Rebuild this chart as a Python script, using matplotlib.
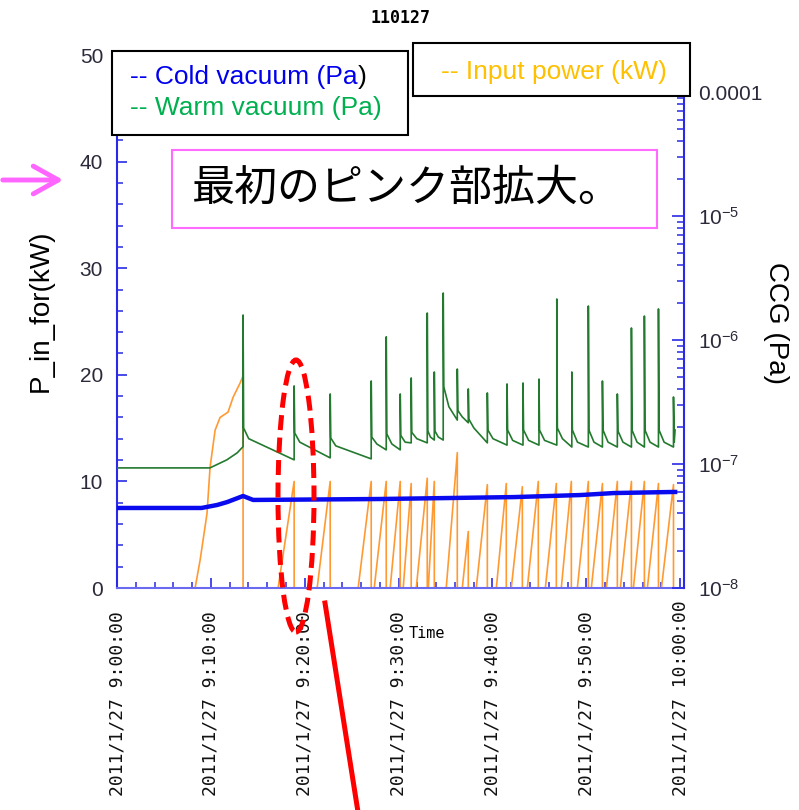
import matplotlib
matplotlib.use('Agg')
import matplotlib.pyplot as plt
import matplotlib.transforms as mtransforms
from matplotlib.patches import Rectangle, Ellipse, FancyArrowPatch
from matplotlib.lines import Line2D
from matplotlib.ticker import MultipleLocator, LogLocator, NullFormatter

plt.rcParams['font.family'] = ['Liberation Sans', 'Noto Sans CJK JP', 'DejaVu Sans']
plt.rcParams['mathtext.fontset'] = 'custom'
plt.rcParams['mathtext.rm'] = 'Liberation Sans'
plt.rcParams['mathtext.it'] = 'Liberation Sans:italic'

# ----------------------------------------
# Data (time = minutes after 2011/1/27 9:00)
# ----------------------------------------

# Input power (kW): first slow ramp
ramp1_t = [0, 8.32, 8.85, 9.59, 9.91, 10.45, 10.98, 11.83, 12.37, 13.10, 13.43]
ramp1_kw = [0, 0, 2.6, 7.0, 11.3, 14.8, 16.0, 16.5, 17.9, 19.2, 19.9]

# following pulses: ramp start, peak time, peak value
pulse_start = [17.16, 21.32, 25.69, 27.40, 29.10, 30.49, 31.88, 33.16, 35.07, 36.78, 38.27, 40.41,
               42.00, 43.71, 45.63, 47.33, 49.04, 50.53, 52.13, 53.62, 55.01, 56.50, 58.00]
pulse_peak_t = [18.87, 22.71, 27.08, 28.68, 30.17, 31.34, 33.05, 33.80, 36.25, 37.42, 39.45, 41.47,
                43.18, 44.88, 46.80, 48.40, 50.21, 51.71, 53.30, 54.80, 56.18, 57.68, 59.28]
pulse_peak_kw = [10.0, 10.0, 10.0, 10.0, 10.0, 9.8, 10.3, 10.0, 12.7, 5.3, 9.7, 9.8,
                 9.5, 10.0, 9.8, 10.0, 10.0, 9.8, 10.0, 10.0, 10.0, 9.8, 9.7]
t_end = 59.45

# Warm vacuum (Pa)
warm_pre_t = [0, 9.9, 11.7, 12.8]
warm_pre_pa = [9.3e-8, 9.3e-8, 1.08e-7, 1.23e-7]
spike_t = [13.43, 18.87, 22.71, 27.08, 28.68, 30.17, 31.34, 33.05, 33.80, 34.75, 36.25, 37.42, 39.45,
           41.55, 43.25, 44.95, 46.85, 48.45, 50.21, 51.71, 53.30, 54.80, 56.18, 57.68, 59.28]
spike_peak = [1.59e-6, 4.26e-7, 3.67e-7, 4.67e-7, 1.06e-6, 3.67e-7, 4.94e-7, 1.65e-6, 5.52e-7, 2.39e-6,
              5.83e-7, 4.03e-7, 3.74e-7, 4.42e-7, 4.50e-7, 4.84e-7, 2.14e-6, 5.52e-7, 1.88e-6, 4.67e-7,
              3.67e-7, 1.25e-6, 1.56e-6, 1.78e-6, 3.47e-7]
spike_floor = [1.38e-7, 1.08e-7, 1.12e-7, 1.10e-7, 1.30e-7, 1.30e-7, 1.48e-7, 1.48e-7, 1.56e-7, 1.56e-7,
               2.26e-7, 2.15e-7, 1.48e-7, 1.42e-7, 1.42e-7, 1.42e-7, 1.42e-7, 1.37e-7, 1.37e-7, 1.37e-7,
               1.37e-7, 1.37e-7, 1.37e-7, 1.37e-7, 1.37e-7]
spike_post = [1.95e-7, 1.78e-7, 1.62e-7, 1.65e-7, 1.75e-7, 1.70e-7, 1.80e-7, 1.85e-7, 1.85e-7, 4.2e-7,
              2.7e-7, 2.3e-7, 1.88e-7, 1.88e-7, 1.88e-7, 1.88e-7, 1.95e-7, 1.88e-7, 1.88e-7, 1.88e-7,
              1.85e-7, 1.88e-7, 1.88e-7, 1.88e-7, 1.88e-7]
spike_knee = [1.6e-7, 1.5e-7, 1.4e-7, 1.45e-7, 1.45e-7, 1.5e-7, 1.6e-7, 1.65e-7, 1.65e-7, 2.9e-7,
              2.4e-7, 1.95e-7, 1.6e-7, 1.55e-7, 1.55e-7, 1.55e-7, 1.6e-7, 1.5e-7, 1.5e-7, 1.5e-7,
              1.5e-7, 1.5e-7, 1.5e-7, 1.5e-7, 1.5e-7]

# Cold vacuum (Pa)
cold_t = [0, 9.0, 10.66, 11.73, 13.43, 14.5, 28.0, 42.3, 49.4, 52.9, 59.3, 59.45]
cold_pa = [4.42e-8, 4.42e-8, 4.67e-8, 4.93e-8, 5.52e-8, 5.13e-8, 5.22e-8, 5.41e-8, 5.62e-8,
           5.83e-8, 5.95e-8, 5.95e-8]

tick_min = [0, 10, 20, 30, 40, 50, 60]
tick_lab = ['2011/1/27 9:00:00', '2011/1/27 9:10:00', '2011/1/27 9:20:00', '2011/1/27 9:30:00',
            '2011/1/27 9:40:00', '2011/1/27 9:50:00', '2011/1/27 10:00:00']
ccg_ticks = [1e-8, 1e-7, 1e-6, 1e-5, 1e-4]
ccg_labels = ['10$^{-8}$', '10$^{-7}$', '10$^{-6}$', '10$^{-5}$', '0.0001']

# ----------------------------------------
# build the paths
# ----------------------------------------
pw_t = list(ramp1_t) + [ramp1_t[-1]]
pw_kw = list(ramp1_kw) + [0]
for s, p, v in zip(pulse_start, pulse_peak_t, pulse_peak_kw):
    pw_t += [s, p, p]
    pw_kw += [0, v, 0]
pw_t.append(t_end)
pw_kw.append(0)

wm_t = list(warm_pre_t)
wm_p = list(warm_pre_pa)
for i, ts in enumerate(spike_t):
    nxt = spike_t[i + 1] if i + 1 < len(spike_t) else t_end
    wm_t += [ts, ts, ts + 0.06, min(ts + 0.6, ts + 0.45 * (nxt - ts))]
    wm_p += [spike_floor[i], spike_peak[i], spike_post[i], spike_knee[i]]
wm_t.append(t_end)
wm_p.append(spike_post[-1])

# ----------------------------------------
# plot
# ----------------------------------------
W, H = 799, 810
fig = plt.figure(figsize=(W / 100, H / 100), dpi=100)
ax = fig.add_axes([117 / W, 1 - 588 / H, 567 / W, 533 / H])
ax2 = ax.twinx()

ax.plot(pw_t, pw_kw, color='#ff9a33', lw=1.2)
ax2.plot(wm_t, wm_p, color='#237a2f', lw=1.2)
ax2.plot(cold_t, cold_pa, color='#0a0aee', lw=3.2)

axcol = '#2a2ae6'
labcol = '#2a2a3a'
ax.set_xlim(0, 60.4)
ax.set_ylim(0, 50)
ax2.set_yscale('log')
ax2.set_ylim(1e-8, 10 ** (-8 + 533 / 124))

ax.yaxis.set_major_locator(MultipleLocator(10))
ax.yaxis.set_minor_locator(MultipleLocator(2))
ax.xaxis.set_major_locator(MultipleLocator(10))
ax.xaxis.set_minor_locator(MultipleLocator(2))
ax.tick_params(axis='y', which='major', direction='in', length=7, width=1.2, color=axcol,
               labelsize=15, labelcolor=labcol, pad=10)
ax.tick_params(axis='y', which='minor', direction='in', length=4, width=1.1, color=axcol)
ax.tick_params(axis='x', which='major', direction='in', length=7, width=1.2, color=axcol, labelbottom=False)
ax.tick_params(axis='x', which='minor', direction='in', length=4, width=1.1, color=axcol)

ax2.set_yticks(ccg_ticks)
ax2.set_yticklabels(ccg_labels)
ax2.yaxis.set_minor_locator(LogLocator(base=10, subs=range(2, 10)))
ax2.yaxis.set_minor_formatter(NullFormatter())
ax2.tick_params(axis='y', which='major', direction='in', length=9, width=1.2, color=axcol,
                labelsize=15, labelcolor=labcol, pad=10)
ax2.tick_params(axis='y', which='minor', direction='in', length=5, width=1.1, color=axcol)

for a in (ax, ax2):
    a.spines['top'].set_visible(False)
ax.spines['right'].set_visible(False)
ax.spines['left'].set_color(axcol)
ax.spines['left'].set_linewidth(1.5)
ax.spines['bottom'].set_color('#6a6af0')
ax.spines['bottom'].set_linewidth(1.5)
ax2.spines['left'].set_visible(False)
ax2.spines['bottom'].set_visible(False)
ax2.spines['right'].set_color(axcol)
ax2.spines['right'].set_linewidth(1.5)

# rotated time labels, bottom-anchored
trans = mtransforms.blended_transform_factory(ax.transData, fig.transFigure)
for m, lab in zip(tick_min, tick_lab):
    ax.text(m, 1 - 796 / H, lab, transform=trans, rotation=90, ha='center', va='bottom',
            family='DejaVu Sans Mono', fontsize=13, color='#111111', clip_on=False)

fig.text(409 / W, 1 - 634 / H, 'Time', family='DejaVu Sans Mono', fontsize=11, va='center')
fig.text(400 / W, 1 - 18 / H, '110127', family='DejaVu Sans Mono', fontsize=12, fontweight='bold',
         ha='center', va='center')
fig.text(41 / W, 1 - 311 / H, 'P_in_for(kW)', rotation=90, fontsize=20, ha='center', va='center')
fig.text(776 / W, 1 - 323 / H, 'CCG (Pa)', rotation=-90, fontsize=20, ha='center', va='center')

# legend boxes
fig.add_artist(Rectangle((112 / W, 1 - 135 / H), 296 / W, 84 / H, transform=fig.transFigure,
                         fc='white', ec='black', lw=1.5, zorder=5))
fig.add_artist(Rectangle((413 / W, 1 - 96 / H), 277 / W, 53 / H, transform=fig.transFigure,
                         fc='white', ec='black', lw=1.5, zorder=5))
t1 = fig.text(130 / W, 1 - 77 / H, '-- Cold vacuum (Pa', color='#0000ee', fontsize=19,
              va='center', zorder=6)
fig.text(130 / W, 1 - 108 / H, '-- Warm vacuum (Pa)', color='#00b050', fontsize=19,
         va='center', zorder=6)
fig.text(441 / W, 1 - 72 / H, '-- Input power (kW)', color='#ffc000', fontsize=19,
         va='center', zorder=6)
fig.canvas.draw()
bb = t1.get_window_extent()
fig.text(bb.x1 / W, 1 - 77 / H, ')', color='black', fontsize=19, va='center', zorder=6)

# pink comment box
fig.add_artist(Rectangle((172 / W, 1 - 228 / H), 485 / W, 78 / H, transform=fig.transFigure,
                         fc='white', ec='#ff6bff', lw=1.5, zorder=5))
fig.text(192 / W, 1 - 189 / H, '最初のピンク部拡大。', family=['Noto Sans CJK JP', 'DejaVu Sans'],
         fontsize=31, va='center', zorder=6)

# pink arrow on the left
fig.add_artist(FancyArrowPatch((0, 1 - 180 / H), (66 / W, 1 - 180 / H), transform=fig.transFigure,
                               arrowstyle='->,head_length=0.9,head_width=0.5', mutation_scale=20,
                               lw=3.5, color='#ff66ff', zorder=7))

# red dashed ellipse and line
fig.add_artist(Ellipse((296 / W, 1 - 496 / H), 36 / W, 272 / H, transform=fig.transFigure,
                       fill=False, ec='#ff0000', lw=3.6, ls=(0, (3, 1.5)), zorder=7))
fig.add_artist(Line2D([325 / W, 358 / W], [1 - 603 / H, 1 - 812 / H], transform=fig.transFigure,
                      color='#ff0000', lw=3.6, zorder=7))

fig.savefig('out.png', dpi=100)
